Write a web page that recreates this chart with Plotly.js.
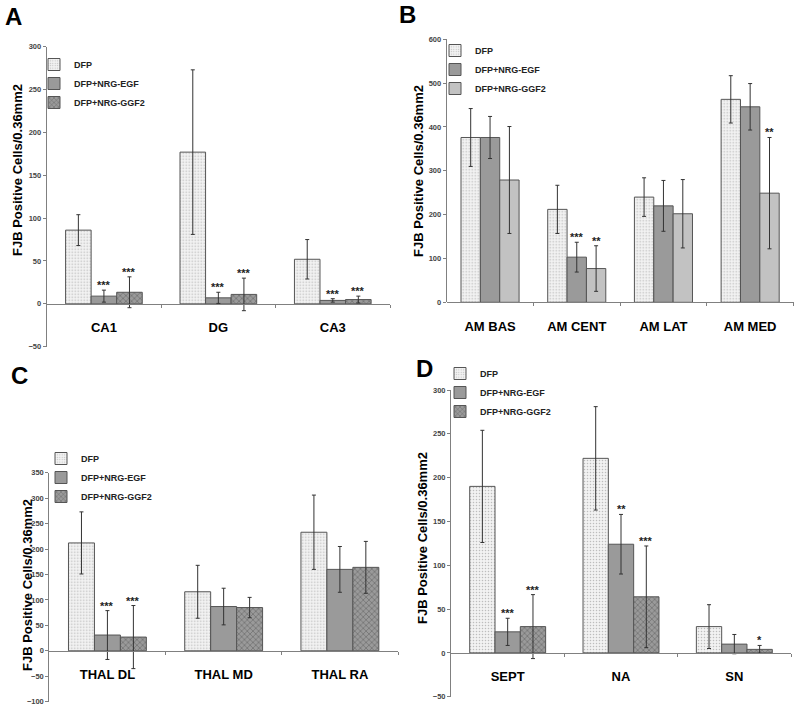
<!DOCTYPE html>
<html>
<head>
<meta charset="utf-8">
<script src="https://cdn.plot.ly/plotly-3.0.1.min.js"></script>
<style>
  body { margin: 0; background: #fff; }
  #chart { width: 800px; height: 708px; }
</style>
</head>
<body>
<div id="chart"></div>
<script>
//Series names
const seriesNames = ["DFP", "DFP+NRG-EGF", "DFP+NRG-GGF2"];
const yTitle = "FJB Positive Cells/0.36mm2";

//Panel A - hippocampus
const catsA = ["CA1", "DG", "CA3"];
const dfpA = [86, 177, 52];
const dfpErrA = [18, 96, 23];
const egfA = [9, 7, 4];
const egfErrA = [7, 6.5, 2];
const ggfA = [13.5, 11, 5];
const ggfErrA = [18, 19, 4];
const egfStarsA = ["***", "***", "***"];
const ggfStarsA = ["***", "***", "***"];

//Panel B - amygdala
const catsB = ["AM BAS", "AM CENT", "AM LAT", "AM MED"];
const dfpB = [376, 212, 240, 463];
const dfpErrB = [66, 55, 44, 54];
const egfB = [376, 103, 220, 446];
const egfErrB = [48, 34, 58, 53];
const ggfB = [279, 77, 202, 249];
const ggfErrB = [122, 52, 78, 127];
const egfStarsB = ["", "***", "", ""];
const ggfStarsB = ["", "**", "", "**"];

//Panel C - thalamus
const catsC = ["THAL DL", "THAL MD", "THAL RA"];
const dfpC = [212, 116, 233];
const dfpErrC = [61, 52, 73];
const egfC = [31, 87, 160];
const egfErrC = [48, 36, 45];
const ggfC = [27, 85, 164];
const ggfErrC = [62, 20, 51];
const egfStarsC = ["***", "", ""];
const ggfStarsC = ["***", "", ""];

//Panel D
const catsD = ["SEPT", "NA", "SN"];
const dfpD = [190, 222, 30];
const dfpErrD = [64, 59, 25];
const egfD = [24, 124, 10];
const egfErrD = [15.5, 34, 11];
const ggfD = [30, 64, 4];
const ggfErrD = [36.5, 58, 4.5];
const egfStarsD = ["***", "**", ""];
const ggfStarsD = ["***", "***", "*"];

const W = 800, H = 708;
const FONT = "Arial, 'Liberation Sans', sans-serif";
const BAR_GAP = 0.33;

function px(x) { return x / W; }
function py(y) { return 1 - y / H; }

//Panel boxes in pixels (left, right, top, bottom) and y ranges
const panels = [
    { key: "", letter: "A", cats: catsA, vals: [dfpA, egfA, ggfA], errs: [dfpErrA, egfErrA, ggfErrA],
      stars: [null, egfStarsA, ggfStarsA], range: [-50, 300], dtick: 50,
      box: [46.7, 390, 46.7, 346.7], ggfLight: false,
      letterPos: [13, 17], titlePos: [18, 170], legendPos: [34, 50] },
    { key: "2", letter: "B", cats: catsB, vals: [dfpB, egfB, ggfB], errs: [dfpErrB, egfErrB, ggfErrB],
      stars: [null, egfStarsB, ggfStarsB], range: [0, 600], dtick: 100,
      box: [446.7, 793.5, 39.3, 302.3], ggfLight: true,
      letterPos: [407, 15], titlePos: [418, 171], legendPos: [435, 36] },
    { key: "3", letter: "C", cats: catsC, vals: [dfpC, egfC, ggfC], errs: [dfpErrC, egfErrC, ggfErrC],
      stars: [null, egfStarsC, ggfStarsC], range: [-100, 350], dtick: 50,
      box: [49.3, 398, 472.7, 701.7], ggfLight: false,
      letterPos: [19, 375], titlePos: [27, 585], legendPos: [41, 444] },
    { key: "4", letter: "D", cats: catsD, vals: [dfpD, egfD, ggfD], errs: [dfpErrD, egfErrD, ggfErrD],
      stars: [null, egfStarsD, ggfStarsD], range: [-50, 300], dtick: 50,
      box: [451, 791, 390, 696.7], ggfLight: false,
      letterPos: [424, 368], titlePos: [422, 538], legendPos: [440, 359] }
];

function barStyle(k, light) {
    if (k === 0) {
        return { color: "#eeeeee", line: { color: "#555555", width: 1 },
                 pattern: { shape: ".", fgcolor: "#bdbdbd", bgcolor: "#f2f2f2", size: 3, solidity: 0.2 } };
    }
    if (k === 1) {
        return { color: "#9a9a9a", line: { color: "#555555", width: 1 } };
    }
    if (light) {
        return { color: "#c2c2c2", line: { color: "#555555", width: 1 } };
    }
    return { color: "#8e8e8e", line: { color: "#555555", width: 1 },
             pattern: { shape: "x", fgcolor: "#606060", bgcolor: "#9a9a9a", size: 4, solidity: 0.25 } };
}

const data = [];
const layout = {
    width: W, height: H,
    margin: { l: 0, r: 0, t: 0, b: 0 },
    paper_bgcolor: "#fff",
    plot_bgcolor: "rgba(0,0,0,0)",
    barmode: "group",
    bargap: BAR_GAP,
    bargroupgap: 0,
    font: { family: FONT, color: "#000" },
    annotations: []
};

panels.forEach(function(p) {
    const xName = "x" + p.key, yName = "y" + p.key;
    const legName = "legend" + p.key;
    const idx = p.cats.map(function(c, i) { return i; });
    const barW = (1 - BAR_GAP) / 3;

    for (let k = 0; k < 3; k++) {
        data.push({
            type: "bar",
            x: idx,
            y: p.vals[k],
            name: seriesNames[k],
            xaxis: xName, yaxis: yName,
            legend: legName,
            marker: barStyle(k, p.ggfLight),
            error_y: { type: "data", array: p.errs[k], visible: true, color: "#333", thickness: 1, width: 2 },
            hoverinfo: "y"
        });
        //significance stars
        if (p.stars[k]) {
            p.stars[k].forEach(function(s, i) {
                if (!s) return;
                layout.annotations.push({
                    xref: xName, yref: yName,
                    x: i + (k - 1) * barW,
                    y: p.vals[k][i] + p.errs[k][i],
                    text: s, showarrow: false,
                    xanchor: "center", yanchor: "bottom", yshift: -3,
                    font: { size: 11, family: FONT, color: "#222", weight: "bold" }
                });
            });
        }
    }

    const yDom = [py(p.box[3]), py(p.box[2])];
    const zeroPos = yDom[0] + (0 - p.range[0]) / (p.range[1] - p.range[0]) * (yDom[1] - yDom[0]);
    const boundaries = p.cats.map(function(c, i) { return i + 0.5; });

    layout["xaxis" + p.key] = {
        domain: [px(p.box[0]), px(p.box[1])],
        anchor: "free",
        position: zeroPos,
        range: [-0.5, p.cats.length - 0.5],
        tickmode: "array",
        tickvals: idx,
        ticktext: p.cats,
        ticks: "",
        ticklabelstandoff: 12,
        tickfont: { size: 13, family: FONT, color: "#000", weight: "bold" },
        showline: true, linecolor: "#808080", linewidth: 1,
        showgrid: false, zeroline: false,
        minor: { tickmode: "array", tickvals: boundaries, ticks: "outside", ticklen: 3, tickcolor: "#808080", showgrid: false },
        fixedrange: true
    };
    layout["yaxis" + p.key] = {
        domain: yDom,
        anchor: xName,
        range: p.range,
        dtick: p.dtick,
        tick0: 0,
        ticks: "outside", ticklen: 3, tickcolor: "#808080",
        tickfont: { size: 7.5, family: FONT, color: "#444", weight: "bold" },
        showline: true, linecolor: "#808080", linewidth: 1,
        showgrid: false, zeroline: false,
        fixedrange: true
    };
    layout[legName] = {
        x: px(p.legendPos[0]), y: py(p.legendPos[1]),
        xanchor: "left", yanchor: "top",
        bgcolor: "rgba(0,0,0,0)", borderwidth: 0,
        font: { size: 9, family: FONT, color: "#222", weight: "bold" },
        traceorder: "normal"
    };

    //panel letter
    layout.annotations.push({
        xref: "paper", yref: "paper", x: px(p.letterPos[0]), y: py(p.letterPos[1]),
        text: p.letter, showarrow: false, xanchor: "center", yanchor: "middle",
        font: { size: 24, family: FONT, color: "#000", weight: "bold" }
    });
    //y axis title
    layout.annotations.push({
        xref: "paper", yref: "paper", x: px(p.titlePos[0]), y: py(p.titlePos[1]),
        text: yTitle, showarrow: false, textangle: -90, xanchor: "center", yanchor: "middle",
        font: { size: 13, family: FONT, color: "#000", weight: "bold" }
    });
});

Plotly.newPlot("chart", data, layout, { displayModeBar: false, staticPlot: true });
</script>
</body>
</html>
